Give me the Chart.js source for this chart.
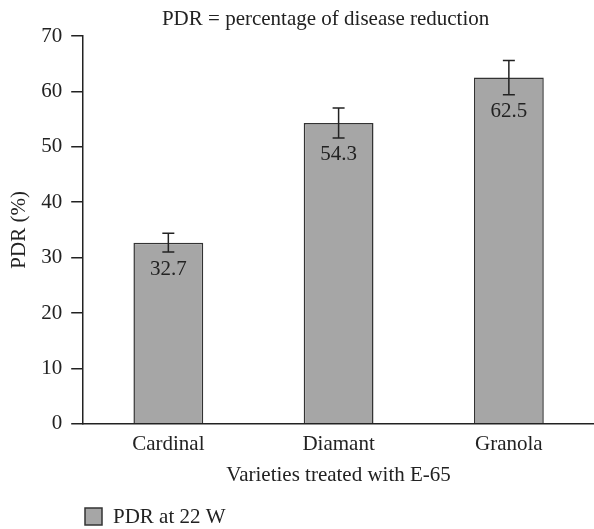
<!DOCTYPE html>
<html>
<head>
<meta charset="utf-8">
<script src="https://cdn.jsdelivr.net/npm/chart.js@4"></script>
<style>
  html, body { margin: 0; padding: 0; background: #fff; }
  #wrap { width: 594px; height: 529px; }
</style>
</head>
<body>
<div id="wrap"><canvas id="pdrChart"></canvas></div>
<script>
const varieties = ["Cardinal", "Diamant", "Granola"];
const pdrValues = [32.7, 54.3, 62.5];
const pdrErrors = [1.7, 2.7, 3.1];
const yTicks = [0, 10, 20, 30, 40, 50, 60, 70];

const FONT = "'Liberation Serif', 'DejaVu Serif', serif";
const INK = "#222";

// error bars + value labels under the lower cap
const errorBars = {
  id: "errorBars",
  afterDatasetsDraw(chart) {
    const ctx = chart.ctx;
    const meta = chart.getDatasetMeta(0);
    const y = chart.scales.y;
    ctx.save();
    ctx.strokeStyle = INK;
    ctx.lineWidth = 1.5;
    meta.data.forEach((bar, i) => {
      const hi = y.getPixelForValue(pdrValues[i] + pdrErrors[i]);
      const lo = y.getPixelForValue(pdrValues[i] - pdrErrors[i]);
      ctx.beginPath();
      ctx.moveTo(bar.x, hi); ctx.lineTo(bar.x, lo);
      ctx.moveTo(bar.x - 6, hi); ctx.lineTo(bar.x + 6, hi);
      ctx.moveTo(bar.x - 6, lo); ctx.lineTo(bar.x + 6, lo);
      ctx.stroke();
      ctx.fillStyle = INK;
      ctx.font = "21px " + FONT;
      ctx.textAlign = "center";
      ctx.textBaseline = "middle";
      ctx.fillText(pdrValues[i].toFixed(1), bar.x, lo + 17);
    });
    ctx.restore();
  }
};

// title over the plot and legend at the bottom left
const extras = {
  id: "extras",
  afterDraw(chart) {
    const ctx = chart.ctx;
    const area = chart.chartArea;
    ctx.save();
    ctx.fillStyle = INK;
    ctx.font = "21px " + FONT;
    ctx.textBaseline = "middle";
    ctx.textAlign = "center";
    ctx.fillText("PDR = percentage of disease reduction", (area.left + area.right) / 2 - 13, 19);

    const ds = chart.data.datasets[0];
    ctx.fillStyle = ds.backgroundColor;
    ctx.strokeStyle = ds.borderColor;
    ctx.lineWidth = 1.5;
    ctx.fillRect(85, 508, 17, 17);
    ctx.strokeRect(85, 508, 17, 17);
    ctx.fillStyle = INK;
    ctx.textAlign = "left";
    ctx.fillText(ds.label, 113, 517);
    ctx.restore();
  }
};

new Chart(document.getElementById("pdrChart"), {
  type: "bar",
  data: {
    labels: varieties,
    datasets: [
      {
        label: "PDR at 22 W",
        data: pdrValues,
        backgroundColor: "#a6a6a6",
        borderColor: "#333",
        borderWidth: 1.5,
        categoryPercentage: 1,
        barPercentage: 0.41,
      },
    ],
  },
  options: {
    responsive: true,
    maintainAspectRatio: false,
    animation: false,
    layout: { padding: { top: 36, left: 0, right: 0, bottom: 43 } },
    plugins: {
      legend: { display: false },
      tooltip: { enabled: false },
    },
    scales: {
      x: {
        grid: { display: true, drawOnChartArea: false, drawTicks: false },
        border: { display: true, color: INK, width: 1.5 },
        ticks: { color: INK, font: { family: FONT, size: 21 }, padding: 8 },
        title: { display: true, text: "Varieties treated with E-65", color: INK, font: { family: FONT, size: 21, lineHeight: 1 }, padding: { top: 0, bottom: 0 } },
      },
      y: {
        min: 0,
        max: 70,
        afterBuildTicks: (axis) => { axis.ticks = yTicks.map((v) => ({ value: v })); },
        grid: { display: true, drawOnChartArea: false, drawTicks: true, tickLength: 12, color: INK, lineWidth: 1.5 },
        border: { display: true, color: INK, width: 1.5 },
        ticks: { color: INK, font: { family: FONT, size: 21 }, padding: 9 },
        title: { display: true, text: "PDR (%)", color: INK, font: { family: FONT, size: 21 }, padding: { top: 7, bottom: 0 } },
      },
    },
  },
  plugins: [errorBars, extras],
});
</script>
</body>
</html>
